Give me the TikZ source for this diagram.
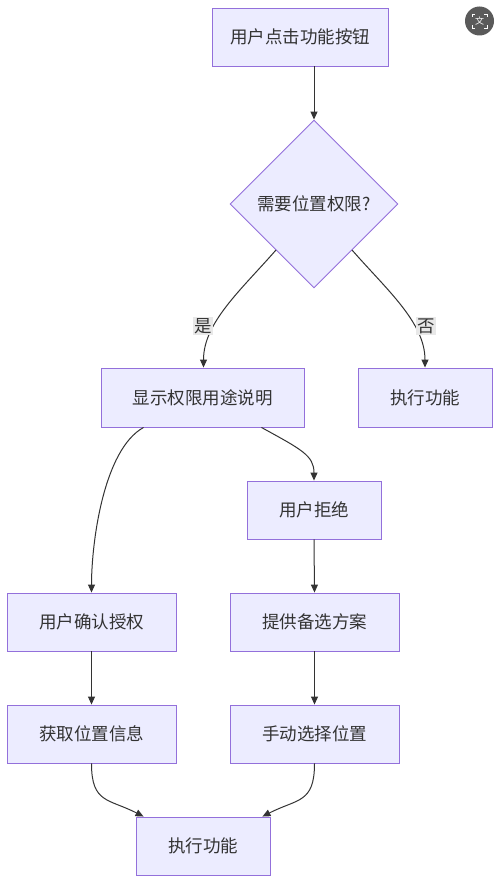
\documentclass[tikz,border=0pt]{standalone}
\usepackage{fontspec}
\setmainfont{Noto Sans CJK SC}
\usetikzlibrary{arrows.meta,shapes.geometric}
\definecolor{nodefill}{HTML}{ECECFF}
\definecolor{nodeline}{HTML}{9370DB}
\definecolor{txt}{HTML}{333333}
\definecolor{edge}{HTML}{333333}
\definecolor{lblbg}{HTML}{E8E8E8}
\definecolor{iconbg}{HTML}{5A5A5A}
\tikzset{
  proc/.style={draw=nodeline, fill=nodefill, line width=0.9pt, rectangle, inner sep=0pt, text=txt, font=\fontsize{17.5}{20}\selectfont},
  decide/.style={draw=nodeline, fill=nodefill, line width=0.9pt, diamond, aspect=1, inner sep=0pt, minimum width=168pt, minimum height=168pt, text=txt, font=\fontsize{17.5}{20}\selectfont},
  conn/.style={draw=edge, line width=1pt, -{Triangle[length=8pt,width=7pt]}},
  lbl/.style={fill=lblbg, text=txt, inner sep=1.5pt, font=\fontsize{17.5}{20}\selectfont}
}
\begin{document}
\begin{tikzpicture}[x=1pt,y=-1pt]
\useasboundingbox (0,0) rectangle (500,883);
\fill[white] (0,0) rectangle (500,883);
% icon
\node[circle, fill=iconbg, minimum size=29pt, inner sep=0pt] (icon) at (479.5,21) {};
\draw[white, line width=0.9pt] (472,17) -- (472,14) -- (475,14) (484,14) -- (487,14) -- (487,17) (487,25) -- (487,28) -- (484,28) (475,28) -- (472,28) -- (472,25);
\node[text=white, font=\fontsize{9}{9}\selectfont, inner sep=0pt] (iconglyph) at (479.5,21) {文};
% nodes
\node[proc, minimum width=176pt, minimum height=58pt] (start) at (300,37) {用户点击功能按钮};
\node[decide] (q) at (314,204) {需要位置权限?};
\node[proc, minimum width=203pt, minimum height=59pt] (disp) at (202.5,397.5) {显示权限用途说明};
\node[proc, minimum width=134pt, minimum height=59pt] (exec1) at (425,397.5) {执行功能};
\node[proc, minimum width=134pt, minimum height=58pt] (deny) at (314,510) {用户拒绝};
\node[proc, minimum width=169pt, minimum height=58pt] (ok) at (91.5,622) {用户确认授权};
\node[proc, minimum width=169pt, minimum height=58pt] (alt) at (314.5,622) {提供备选方案};
\node[proc, minimum width=169pt, minimum height=58pt] (get) at (91.5,734) {获取位置信息};
\node[proc, minimum width=169pt, minimum height=58pt] (manual) at (314.5,734) {手动选择位置};
\node[proc, minimum width=134pt, minimum height=58pt] (exec2) at (203,846) {执行功能};
% edges
\draw[conn] ([xshift=14pt]start.south) -- (q.north);
\draw[conn] ([xshift=-38pt,yshift=-46pt]q.center) .. controls +(-35,40) and +(0,-45) .. ([xshift=1pt]disp.north);
\draw[conn] ([xshift=38pt,yshift=-46pt]q.center) .. controls +(35,40) and +(0,-45) .. (exec1.north);
\node[lbl] (yes) at (203,326) {是};
\node[lbl] (no) at (426,326) {否};
\draw[conn] ([xshift=43pt]disp.south west) .. controls +(-40,22) and +(0,-50) .. (ok.north);
\draw[conn] ([xshift=-43pt]disp.south east) .. controls +(40,22) and +(0,-25) .. (deny.north);
\draw[conn] (deny.south) -- (alt.north);
\draw[conn] (ok.south) -- (get.north);
\draw[conn] (alt.south) -- (manual.north);
\draw[conn] (get.south) .. controls +(0,40) and +(-35,-18) .. ([xshift=8pt]exec2.north west);
\draw[conn] (manual.south) .. controls +(0,40) and +(35,-18) .. ([xshift=-8pt]exec2.north east);
\end{tikzpicture}
\end{document}
